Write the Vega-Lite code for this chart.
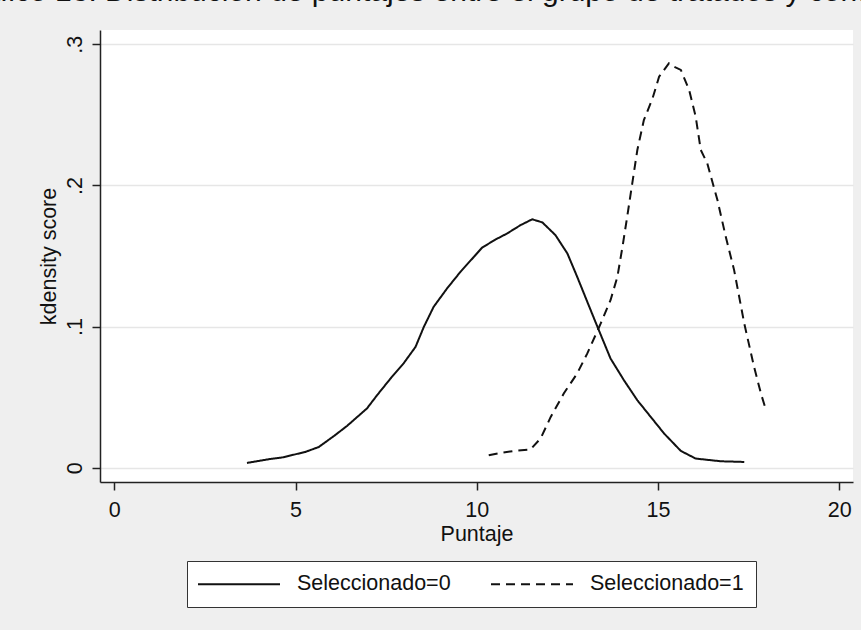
{
  "$schema": "https://vega.github.io/schema/vega-lite/v6.json",
  "width": 753,
  "height": 452,
  "autosize": {"type": "none"},
  "padding": {"left": 100, "top": 30, "right": 8, "bottom": 148},
  "background": "#efefef",
  "title": {
    "text": "Gráfico 13. Distribución de puntajes entre el grupo de tratados y control",
    "anchor": "start",
    "frame": "group",
    "dx": -150,
    "dy": 17,
    "offset": 16,
    "limit": 2000,
    "baseline": "alphabetic",
    "fontSize": 30,
    "font": "Liberation Sans",
    "fontWeight": "normal",
    "color": "#111111"
  },
  "config": {
    "view": {"fill": "white", "stroke": null},
    "font": "Liberation Sans"
  },
  "data": {
    "values": [
      {"puntaje": 3.66, "densidad": 0.0034, "grupo": "Seleccionado=0"},
      {"puntaje": 4.30, "densidad": 0.0062, "grupo": "Seleccionado=0"},
      {"puntaje": 4.62, "densidad": 0.0072, "grupo": "Seleccionado=0"},
      {"puntaje": 5.27, "densidad": 0.0112, "grupo": "Seleccionado=0"},
      {"puntaje": 5.64, "densidad": 0.0147, "grupo": "Seleccionado=0"},
      {"puntaje": 6.05, "densidad": 0.0223, "grupo": "Seleccionado=0"},
      {"puntaje": 6.42, "densidad": 0.0296, "grupo": "Seleccionado=0"},
      {"puntaje": 6.97, "densidad": 0.0420, "grupo": "Seleccionado=0"},
      {"puntaje": 7.25, "densidad": 0.0514, "grupo": "Seleccionado=0"},
      {"puntaje": 7.62, "densidad": 0.0632, "grupo": "Seleccionado=0"},
      {"puntaje": 7.98, "densidad": 0.0739, "grupo": "Seleccionado=0"},
      {"puntaje": 8.31, "densidad": 0.0856, "grupo": "Seleccionado=0"},
      {"puntaje": 8.54, "densidad": 0.0998, "grupo": "Seleccionado=0"},
      {"puntaje": 8.81, "densidad": 0.1140, "grupo": "Seleccionado=0"},
      {"puntaje": 9.18, "densidad": 0.1270, "grupo": "Seleccionado=0"},
      {"puntaje": 9.55, "densidad": 0.1388, "grupo": "Seleccionado=0"},
      {"puntaje": 9.92, "densidad": 0.1494, "grupo": "Seleccionado=0"},
      {"puntaje": 10.15, "densidad": 0.1560, "grupo": "Seleccionado=0"},
      {"puntaje": 10.52, "densidad": 0.1617, "grupo": "Seleccionado=0"},
      {"puntaje": 10.84, "densidad": 0.1660, "grupo": "Seleccionado=0"},
      {"puntaje": 11.21, "densidad": 0.1719, "grupo": "Seleccionado=0"},
      {"puntaje": 11.53, "densidad": 0.1760, "grupo": "Seleccionado=0"},
      {"puntaje": 11.81, "densidad": 0.1738, "grupo": "Seleccionado=0"},
      {"puntaje": 12.17, "densidad": 0.1648, "grupo": "Seleccionado=0"},
      {"puntaje": 12.50, "densidad": 0.1518, "grupo": "Seleccionado=0"},
      {"puntaje": 12.77, "densidad": 0.1353, "grupo": "Seleccionado=0"},
      {"puntaje": 13.05, "densidad": 0.1175, "grupo": "Seleccionado=0"},
      {"puntaje": 13.33, "densidad": 0.0998, "grupo": "Seleccionado=0"},
      {"puntaje": 13.69, "densidad": 0.0774, "grupo": "Seleccionado=0"},
      {"puntaje": 14.06, "densidad": 0.0620, "grupo": "Seleccionado=0"},
      {"puntaje": 14.43, "densidad": 0.0478, "grupo": "Seleccionado=0"},
      {"puntaje": 14.80, "densidad": 0.0360, "grupo": "Seleccionado=0"},
      {"puntaje": 15.17, "densidad": 0.0242, "grupo": "Seleccionado=0"},
      {"puntaje": 15.63, "densidad": 0.0119, "grupo": "Seleccionado=0"},
      {"puntaje": 16.04, "densidad": 0.0065, "grupo": "Seleccionado=0"},
      {"puntaje": 16.73, "densidad": 0.0046, "grupo": "Seleccionado=0"},
      {"puntaje": 17.38, "densidad": 0.0041, "grupo": "Seleccionado=0"},
      {"puntaje": 10.33, "densidad": 0.0089, "grupo": "Seleccionado=1"},
      {"puntaje": 10.65, "densidad": 0.0105, "grupo": "Seleccionado=1"},
      {"puntaje": 11.02, "densidad": 0.0119, "grupo": "Seleccionado=1"},
      {"puntaje": 11.48, "densidad": 0.0129, "grupo": "Seleccionado=1"},
      {"puntaje": 11.76, "densidad": 0.0207, "grupo": "Seleccionado=1"},
      {"puntaje": 12.04, "densidad": 0.0360, "grupo": "Seleccionado=1"},
      {"puntaje": 12.40, "densidad": 0.0526, "grupo": "Seleccionado=1"},
      {"puntaje": 12.77, "densidad": 0.0668, "grupo": "Seleccionado=1"},
      {"puntaje": 13.05, "densidad": 0.0810, "grupo": "Seleccionado=1"},
      {"puntaje": 13.42, "densidad": 0.1022, "grupo": "Seleccionado=1"},
      {"puntaje": 13.69, "densidad": 0.1187, "grupo": "Seleccionado=1"},
      {"puntaje": 13.88, "densidad": 0.1353, "grupo": "Seleccionado=1"},
      {"puntaje": 14.02, "densidad": 0.1565, "grupo": "Seleccionado=1"},
      {"puntaje": 14.15, "densidad": 0.1778, "grupo": "Seleccionado=1"},
      {"puntaje": 14.29, "densidad": 0.2015, "grupo": "Seleccionado=1"},
      {"puntaje": 14.43, "densidad": 0.2251, "grupo": "Seleccionado=1"},
      {"puntaje": 14.61, "densidad": 0.2463, "grupo": "Seleccionado=1"},
      {"puntaje": 14.85, "densidad": 0.2617, "grupo": "Seleccionado=1"},
      {"puntaje": 15.03, "densidad": 0.2770, "grupo": "Seleccionado=1"},
      {"puntaje": 15.30, "densidad": 0.2865, "grupo": "Seleccionado=1"},
      {"puntaje": 15.44, "densidad": 0.2841, "grupo": "Seleccionado=1"},
      {"puntaje": 15.63, "densidad": 0.2818, "grupo": "Seleccionado=1"},
      {"puntaje": 15.86, "densidad": 0.2676, "grupo": "Seleccionado=1"},
      {"puntaje": 16.04, "densidad": 0.2487, "grupo": "Seleccionado=1"},
      {"puntaje": 16.18, "densidad": 0.2251, "grupo": "Seleccionado=1"},
      {"puntaje": 16.36, "densidad": 0.2156, "grupo": "Seleccionado=1"},
      {"puntaje": 16.64, "densidad": 0.1896, "grupo": "Seleccionado=1"},
      {"puntaje": 16.87, "densidad": 0.1636, "grupo": "Seleccionado=1"},
      {"puntaje": 17.10, "densidad": 0.1400, "grupo": "Seleccionado=1"},
      {"puntaje": 17.38, "densidad": 0.1022, "grupo": "Seleccionado=1"},
      {"puntaje": 17.65, "densidad": 0.0715, "grupo": "Seleccionado=1"},
      {"puntaje": 17.84, "densidad": 0.0526, "grupo": "Seleccionado=1"},
      {"puntaje": 17.98, "densidad": 0.0408, "grupo": "Seleccionado=1"}
    ]
  },
  "mark": {"type": "line", "color": "#111111", "strokeWidth": 2, "clip": true},
  "encoding": {
    "x": {
      "field": "puntaje",
      "type": "quantitative",
      "scale": {"domain": [-0.395, 20.38], "nice": false, "zero": false},
      "axis": {
        "values": [0, 5, 10, 15, 20],
        "title": "Puntaje",
        "grid": false,
        "domainColor": "#222222",
        "domainWidth": 1.5,
        "tickColor": "#222222",
        "tickWidth": 1.5,
        "tickSize": 8,
        "labelFontSize": 21.5,
        "labelColor": "#111111",
        "labelPadding": 9,
        "labelFlush": false,
        "labelOverlap": false,
        "titleFontSize": 21.5,
        "titleFontWeight": "normal",
        "titleColor": "#111111",
        "titlePadding": 3
      }
    },
    "y": {
      "field": "densidad",
      "type": "quantitative",
      "scale": {"domain": [-0.0101, 0.3101], "nice": false, "zero": false},
      "axis": {
        "values": [0, 0.1, 0.2, 0.3],
        "labelExpr": "datum.value == 0 ? '0' : replace(format(datum.value, '.1f'), '0.', '.')",
        "title": "kdensity score",
        "grid": true,
        "gridColor": "#e6e6e6",
        "gridWidth": 1.5,
        "domainColor": "#222222",
        "domainWidth": 1.5,
        "tickColor": "#222222",
        "tickWidth": 1.5,
        "tickSize": 8,
        "labelAngle": 270,
        "labelAlign": "center",
        "labelBaseline": "bottom",
        "labelFontSize": 21.5,
        "labelColor": "#111111",
        "labelPadding": 6,
        "labelFlush": false,
        "labelOverlap": false,
        "titleFontSize": 21.5,
        "titleFontWeight": "normal",
        "titleColor": "#111111",
        "titlePadding": 4
      }
    },
    "strokeDash": {
      "field": "grupo",
      "type": "nominal",
      "scale": {"domain": ["Seleccionado=0", "Seleccionado=1"], "range": [[1, 0], [9, 6]]},
      "legend": {
        "orient": "none",
        "legendX": 87,
        "legendY": 531,
        "direction": "horizontal",
        "columns": 2,
        "title": null,
        "strokeColor": "#333333",
        "fillColor": "white",
        "padding": 12,
        "symbolType": "M-4.1,0H4.1",
        "symbolSize": 400,
        "symbolOffset": 29,
        "symbolStrokeWidth": 2,
        "symbolStrokeColor": "#111111",
        "labelFontSize": 21.5,
        "labelColor": "#111111",
        "labelOffset": 47,
        "labelLimit": 300,
        "columnPadding": 36
      }
    }
  }
}
